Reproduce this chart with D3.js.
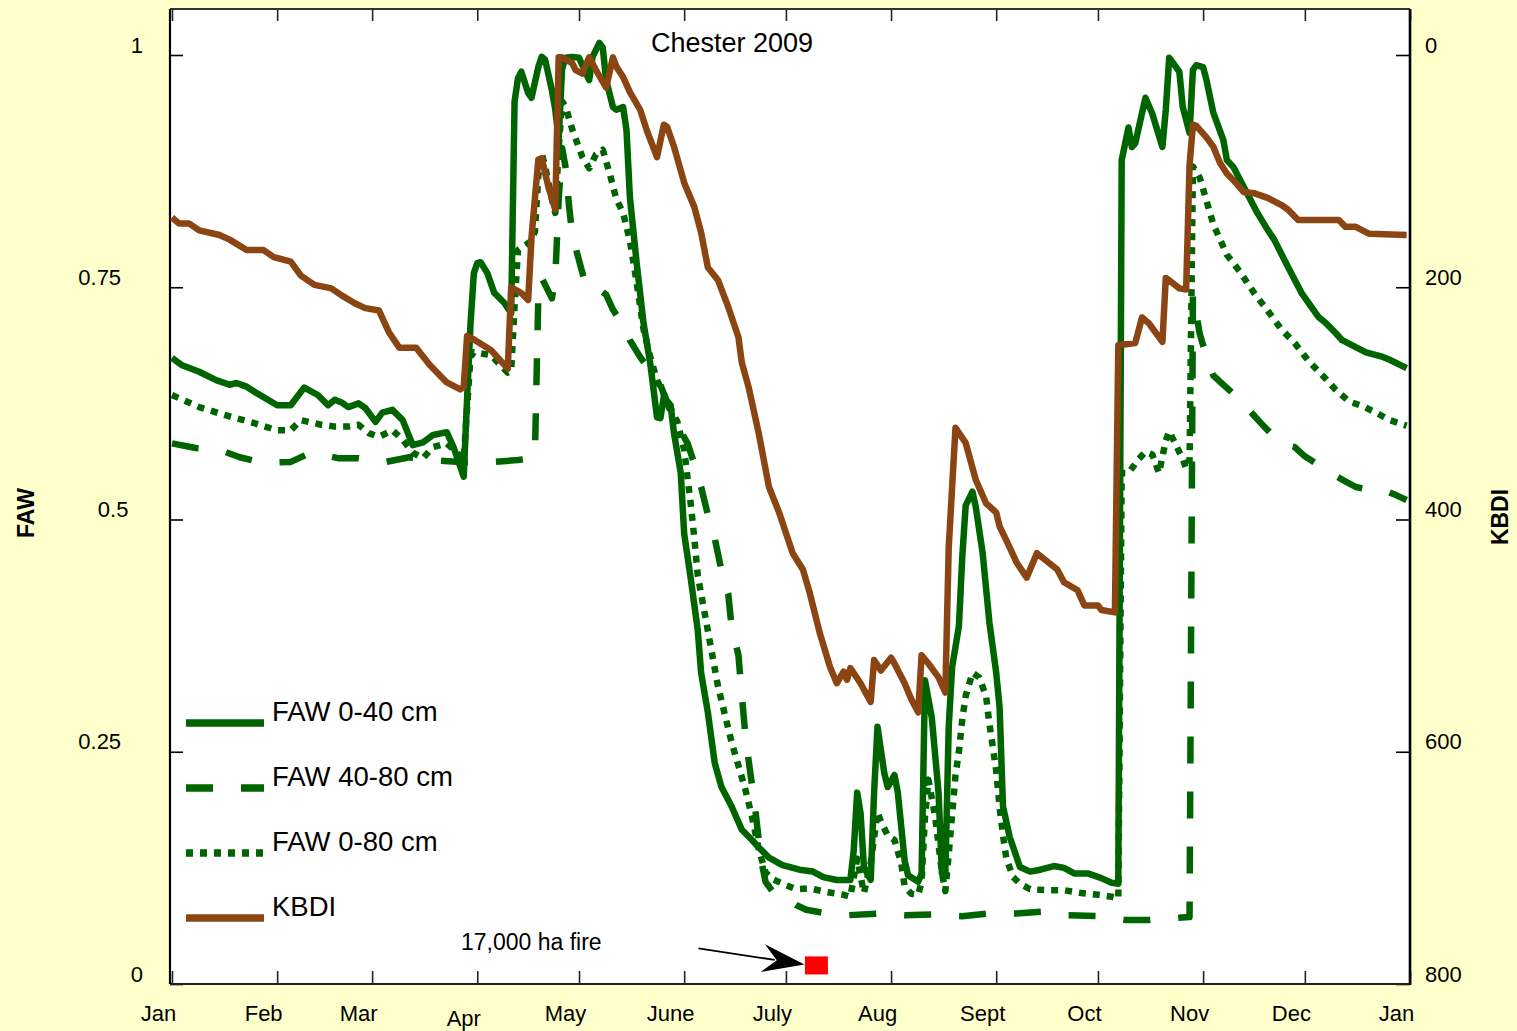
<!DOCTYPE html>
<html>
<head>
<meta charset="utf-8">
<script src="https://cdn.jsdelivr.net/npm/d3@7"></script>
<style>
  html, body { margin: 0; padding: 0; background: #ffffcc; }
  svg { display: block; }
  text { font-family: "Liberation Sans", Arial, sans-serif; fill: #000; }
</style>
</head>
<body>
<svg width="1517" height="1031"></svg>
<script>
// month labels for the bottom axis (Jan 2009 .. Jan 2010)
const monthLabels = ["Jan", "Feb", "Mar", "Apr", "May", "June", "July", "Aug", "Sept", "Oct", "Nov", "Dec", "Jan"];
const fawTicks = [0, 0.25, 0.5, 0.75, 1];
const kbdiTicks = [0, 200, 400, 600, 800];
const legendLabels = ["FAW 0-40 cm", "FAW 40-80 cm", "FAW 0-80 cm", "KBDI"];

// [day of year (0 = Jan 1), value]
const faw0_40 = [
  [0,0.674],[3,0.666],[8,0.659],[13,0.650],[17,0.645],[19,0.647],[22,0.643],[25,0.636],[31,0.623],[35,0.623],
  [39,0.642],[43,0.634],[46,0.623],[48,0.629],[50,0.626],[52,0.621],[55,0.625],[57,0.620],[60,0.605],[62,0.615],
  [65,0.618],[68,0.607],[71,0.580],[74,0.583],[77,0.591],[81,0.594],[83,0.578],[86,0.546],[87,0.63],[88,0.71],
  [89,0.765],[90,0.776],[91,0.777],[93,0.765],[95,0.744],[98,0.733],[100,0.722],[101,0.95],[102,0.975],[103,0.982],
  [105,0.959],[106,0.954],[108,0.987],[109,0.998],[110,0.995],[112,0.962],[113,0.941],[114,0.91],[115,0.985],[116,0.997],
  [118,0.998],[120,0.997],[122,0.981],[123,0.973],[124,0.998],[126,1.013],[127,1.008],[128,0.973],[130,0.944],[131,0.941],
  [133,0.944],[134,0.919],[135,0.847],[137,0.776],[139,0.712],[141,0.668],[142,0.639],[143,0.610],[144,0.609],[145,0.632],
  [147,0.623],[148,0.593],[150,0.550],[151,0.485],[153,0.435],[155,0.381],[156,0.335],[158,0.292],[160,0.238],[162,0.212],
  [165,0.191],[168,0.166],[171,0.155],[173,0.147],[176,0.136],[180,0.128],[185,0.123],[189,0.121],[192,0.115],[196,0.112],
  [200,0.112],[201,0.144],[202,0.206],[203,0.184],[204,0.126],[206,0.112],[207,0.206],[208,0.277],[210,0.227],[211,0.212],
  [213,0.225],[214,0.206],[216,0.133],[217,0.117],[220,0.110],[221,0.119],[222,0.327],[224,0.287],[226,0.206],[227,0.119],
  [228,0.119],[229,0.277],[230,0.341],[232,0.385],[233,0.46],[234,0.515],[236,0.530],[237,0.513],[239,0.464],[241,0.389],
  [243,0.335],[244,0.298],[245,0.191],[247,0.158],[250,0.126],[253,0.121],[256,0.123],[260,0.127],[263,0.125],[266,0.119],
  [270,0.119],[274,0.114],[277,0.109],[279,0.108],[280,0.887],[282,0.922],[283,0.901],[284,0.905],[287,0.954],[289,0.937],
  [292,0.901],[293,0.941],[294,0.997],[295,0.992],[297,0.982],[298,0.944],[300,0.916],[301,0.984],[302,0.989],[304,0.987],
  [305,0.973],[307,0.938],[310,0.908],[311,0.887],[313,0.879],[317,0.851],[320,0.830],[323,0.812],[325,0.801],[329,0.772],
  [330,0.765],[333,0.744],[338,0.718],[340,0.712],[343,0.701],[345,0.693],[352,0.680],[357,0.675],[359,0.672],[364,0.663]
];

const faw40_80 = [
  [0,0.582],[7,0.577],[14,0.575],[20,0.567],[27,0.561],[35,0.562],[41,0.572],[49,0.566],[55,0.566],[63,0.562],
  [70,0.567],[76,0.564],[85,0.562],[95,0.562],[102,0.564],[106,0.566],[107,0.57],[108,0.74],[109,0.76],[112,0.738],
  [113,0.76],[114,0.844],[115,0.90],[116,0.88],[117,0.84],[118,0.806],[120,0.779],[122,0.752],[125,0.75],[128,0.742],
  [130,0.726],[133,0.709],[135,0.693],[138,0.675],[141,0.660],[144,0.645],[146,0.625],[148,0.608],[150,0.595],[152,0.582],
  [154,0.56],[156,0.535],[158,0.505],[160,0.48],[162,0.445],[164,0.42],[165,0.384],[167,0.354],[168,0.311],[169,0.27],
  [170,0.241],[171,0.214],[172,0.187],[173,0.155],[174,0.128],[175,0.11],[177,0.10],[180,0.095],[184,0.085],[187,0.08],
  [193,0.076],[199,0.074],[209,0.076],[216,0.074],[225,0.075],[233,0.073],[241,0.076],[249,0.076],[257,0.078],[264,0.074],
  [273,0.073],[281,0.069],[288,0.069],[295,0.071],[300,0.072],[301,0.742],[303,0.70],[305,0.675],[307,0.655],[310,0.645],
  [313,0.635],[316,0.624],[319,0.612],[322,0.600],[325,0.589],[328,0.581],[331,0.578],[334,0.568],[337,0.561],[341,0.551],
  [345,0.543],[349,0.535],[353,0.532],[357,0.532],[361,0.526],[364,0.521]
];

const faw0_80 = [
  [0,0.634],[8,0.621],[16,0.612],[24,0.604],[31,0.596],[35,0.596],[38,0.607],[44,0.602],[48,0.600],[52,0.600],
  [55,0.602],[58,0.593],[61,0.589],[65,0.596],[68,0.586],[71,0.572],[74,0.566],[77,0.578],[81,0.582],[84,0.572],
  [86,0.564],[87,0.62],[88,0.675],[89,0.68],[94,0.677],[99,0.658],[100,0.66],[101,0.73],[102,0.79],[104,0.795],
  [106,0.80],[107,0.81],[108,0.87],[109,0.894],[110,0.88],[112,0.845],[113,0.83],[114,0.90],[115,0.95],[116,0.945],
  [118,0.92],[121,0.89],[123,0.878],[125,0.893],[127,0.898],[129,0.873],[131,0.845],[133,0.83],[135,0.80],[137,0.755],
  [139,0.705],[141,0.675],[143,0.65],[145,0.635],[147,0.62],[149,0.605],[150,0.59],[151,0.575],[152,0.545],[153,0.515],
  [154,0.48],[155,0.44],[157,0.40],[159,0.36],[161,0.32],[163,0.29],[165,0.26],[167,0.235],[169,0.21],[171,0.18],
  [173,0.145],[175,0.12],[177,0.113],[180,0.108],[184,0.102],[188,0.103],[193,0.099],[198,0.096],[200,0.094],[202,0.135],
  [204,0.098],[206,0.13],[208,0.185],[209,0.175],[211,0.16],[213,0.155],[215,0.13],[216,0.105],[218,0.097],[220,0.096],
  [221,0.11],[222,0.18],[223,0.22],[225,0.18],[227,0.12],[228,0.10],[229,0.14],[231,0.225],[232,0.25],[233,0.285],
  [234,0.31],[236,0.335],[238,0.33],[240,0.31],[241,0.28],[243,0.23],[244,0.19],[245,0.16],[246,0.135],[248,0.115],
  [250,0.108],[253,0.102],[258,0.101],[263,0.101],[268,0.098],[273,0.096],[277,0.094],[279,0.092],[280,0.55],[282,0.55],
  [285,0.565],[287,0.573],[289,0.57],[291,0.55],[293,0.585],[294,0.595],[296,0.58],[298,0.565],[299,0.555],[300,0.56],
  [301,0.88],[303,0.868],[307,0.818],[311,0.785],[315,0.766],[319,0.744],[323,0.725],[327,0.705],[331,0.690],[335,0.671],
  [339,0.656],[343,0.640],[347,0.627],[351,0.622],[355,0.615],[359,0.607],[364,0.601]
];

const kbdi = [
  [0,140],[2,145],[5,145],[8,151],[14,155],[17,159],[22,168],[27,168],[30,174],[35,178],
  [38,190],[42,198],[47,201],[50,207],[54,214],[57,218],[61,220],[64,239],[67,252],[72,252],
  [76,267],[81,282],[85,288],[86,286],[87,242],[89,245],[94,254],[99,270],[100,200],[103,205],
  [105,211],[106,157],[108,90],[109,89],[111,114],[113,133],[114,2],[115,2],[118,7],[119,13],
  [121,16],[123,2],[125,13],[128,28],[130,2],[131,10],[133,19],[135,32],[138,47],[140,65],
  [143,88],[145,60],[146,62],[148,79],[151,110],[154,131],[156,153],[158,183],[161,194],[164,217],
  [167,243],[168,265],[170,286],[173,326],[176,372],[179,394],[183,429],[186,443],[188,463],[191,498],
  [194,527],[196,541],[198,531],[199,538],[200,528],[203,541],[206,557],[207,521],[209,530],[212,519],
  [213,524],[216,541],[218,555],[220,566],[221,517],[223,524],[226,536],[228,549],[229,424],[231,321],
  [234,334],[237,366],[240,386],[243,394],[244,406],[246,418],[249,437],[252,450],[255,429],[261,443],
  [263,454],[267,461],[269,474],[273,474],[274,478],[278,480],[279,250],[284,248],[286,226],[288,231],
  [292,247],[293,192],[294,194],[297,201],[299,202],[300,95],[301,60],[302,61],[305,71],[307,79],
  [309,93],[311,102],[313,108],[316,118],[319,119],[323,123],[327,129],[329,133],[331,139],[332,142],
  [344,142],[346,148],[349,148],[353,154],[364,155]
];

// the fire event (day of year, FAW level where the marker sits)
const fireDay = 190;
const fireFaw = 0.02;
const fireLabel = "17,000 ha fire";

function main() {
  var svg = d3.select("svg");
  var left = 170, right = 1410, top = 9, bottom = 984;
  var green = "#006400", brown = "#8b4513";

  var year0 = new Date(2009, 0, 1), year1 = new Date(2010, 0, 1);
  var toDate = function(d) { return d3.timeDay.offset(year0, d); };

  var x = d3.scaleTime().domain([year0, year1]).range([172, right]);
  var yFaw = d3.scaleLinear().domain([0, 1]).range([bottom, 55]);
  var yKbdi = d3.scaleLinear().domain([0, 800]).range([55, bottom]);

  svg.append("rect").attr("x", left).attr("y", top)
    .attr("width", right - left).attr("height", bottom - top).attr("fill", "#fff");

  var monthTicks = d3.timeMonth.range(year0, d3.timeDay.offset(year1, 1));

  // bottom axis, ticks point inward
  var gB = svg.append("g").attr("transform", "translate(0," + bottom + ")")
    .call(d3.axisBottom(x).tickValues(monthTicks)
      .tickFormat(function(d, i) { return monthLabels[i]; })
      .tickSizeInner(-13).tickSizeOuter(0).tickPadding(21));
  gB.select(".domain").remove();
  gB.selectAll("line").attr("stroke", "#222").attr("stroke-width", 1.6);
  gB.selectAll("text").attr("x", -14).style("font-size", "22px")
    .attr("y", function(d, i) { return i === 3 ? 26 : 21; });  // "Apr" sits a bit lower in the original

  var gT = svg.append("g").attr("transform", "translate(0," + top + ")")
    .call(d3.axisTop(x).tickValues(monthTicks).tickFormat("")
      .tickSizeInner(-12).tickSizeOuter(0));
  gT.select(".domain").remove();
  gT.selectAll("line").attr("stroke", "#222").attr("stroke-width", 1.6);

  var gL = svg.append("g").attr("transform", "translate(" + left + ",0)")
    .call(d3.axisLeft(yFaw).tickValues(fawTicks).tickFormat(function(d) { return String(d); })
      .tickSizeInner(-13).tickSizeOuter(0));
  gL.select(".domain").remove();
  gL.selectAll("line").attr("stroke", "#000").attr("stroke-width", 1.6);
  gL.selectAll("text")
    .attr("x", function(d) { return -27 - (String(d).length - 1) * 7.3; })
    .attr("dy", "-0.13em").style("font-size", "22px");

  var gR = svg.append("g").attr("transform", "translate(" + right + ",0)")
    .call(d3.axisRight(yKbdi).tickValues(kbdiTicks)
      .tickSizeInner(-14).tickSizeOuter(0).tickPadding(15));
  gR.select(".domain").remove();
  gR.selectAll("line").attr("stroke", "#000").attr("stroke-width", 1.6);
  gR.selectAll("text").attr("dy", "-0.13em").style("font-size", "22px");

  // frame
  svg.append("line").attr("x1", left).attr("x2", right).attr("y1", top).attr("y2", top)
    .attr("stroke", "#333").attr("stroke-width", 2);
  svg.append("line").attr("x1", left).attr("x2", right + 1).attr("y1", bottom).attr("y2", bottom)
    .attr("stroke", "#222").attr("stroke-width", 2);
  svg.append("line").attr("x1", left).attr("x2", left).attr("y1", top).attr("y2", bottom)
    .attr("stroke", "#000").attr("stroke-width", 2.2);
  svg.append("line").attr("x1", right).attr("x2", right).attr("y1", top).attr("y2", bottom + 1)
    .attr("stroke", "#000").attr("stroke-width", 2.6);

  // series
  var lineFaw = d3.line().x(function(d) { return x(toDate(d[0])); }).y(function(d) { return yFaw(d[1]); });
  var lineKbdi = d3.line().x(function(d) { return x(toDate(d[0])); }).y(function(d) { return yKbdi(d[1]); });

  var plot = svg.append("g").attr("fill", "none").attr("stroke-linejoin", "round");
  plot.append("path").datum(faw0_40).attr("d", lineFaw)
    .attr("stroke", green).attr("stroke-width", 6.5);
  plot.append("path").datum(faw40_80).attr("d", lineFaw)
    .attr("stroke", green).attr("stroke-width", 6.5).attr("stroke-dasharray", "27,28");
  plot.append("path").datum(faw0_80).attr("d", lineFaw)
    .attr("stroke", green).attr("stroke-width", 6.5).attr("stroke-dasharray", "7,7");
  plot.append("path").datum(kbdi).attr("d", lineKbdi)
    .attr("stroke", brown).attr("stroke-width", 6.5);

  // legend
  var legendStyles = [
    { color: green, dash: null },
    { color: green, dash: "27,28" },
    { color: green, dash: "7,7" },
    { color: brown, dash: null }
  ];
  var legend = svg.append("g");
  legendLabels.forEach(function(name, i) {
    var ly = 723 + i * 65;
    legend.append("line").attr("x1", 186).attr("x2", 264).attr("y1", ly).attr("y2", ly)
      .attr("stroke", legendStyles[i].color).attr("stroke-width", 7.5)
      .attr("stroke-dasharray", legendStyles[i].dash);
    legend.append("text").attr("x", 272).attr("y", ly - 2)
      .style("font-size", "27.5px").text(name);
  });

  // titles
  svg.append("text").attr("x", 732).attr("y", 52).attr("text-anchor", "middle")
    .style("font-size", "27px").text("Chester 2009");
  svg.append("text").attr("transform", "translate(34,513) rotate(-90)").attr("text-anchor", "middle")
    .style("font-size", "23px").style("font-weight", "bold").text("FAW");
  svg.append("text").attr("transform", "translate(1508,517) rotate(-90)").attr("text-anchor", "middle")
    .style("font-size", "23px").style("font-weight", "bold").text("KBDI");

  // fire marker + arrow
  var fx = x(toDate(fireDay)), fy = yFaw(fireFaw);
  svg.append("rect").attr("x", fx - 11.5).attr("y", fy - 9).attr("width", 23).attr("height", 18)
    .attr("fill", "#ff0000");
  var tip = [fx - 12, fy - 1], tail = [tip[0] - 106, tip[1] - 16];
  var len = Math.hypot(tip[0] - tail[0], tip[1] - tail[1]);
  var ux = (tip[0] - tail[0]) / len, uy = (tip[1] - tail[1]) / len;
  var nx = -uy, ny = ux;
  svg.append("line").attr("x1", tail[0]).attr("y1", tail[1])
    .attr("x2", tip[0] - 30 * ux).attr("y2", tip[1] - 30 * uy)
    .attr("stroke", "#000").attr("stroke-width", 1.8);
  svg.append("path").attr("fill", "#000").attr("d",
    "M" + tip[0] + "," + tip[1] +
    "L" + (tip[0] - 42 * ux + 14 * nx) + "," + (tip[1] - 42 * uy + 14 * ny) +
    "L" + (tip[0] - 28 * ux) + "," + (tip[1] - 28 * uy) +
    "L" + (tip[0] - 42 * ux - 14 * nx) + "," + (tip[1] - 42 * uy - 14 * ny) + "Z");
  svg.append("text").attr("x", 461).attr("y", 950).style("font-size", "23px").text(fireLabel);
}
main();
</script>
</body>
</html>
